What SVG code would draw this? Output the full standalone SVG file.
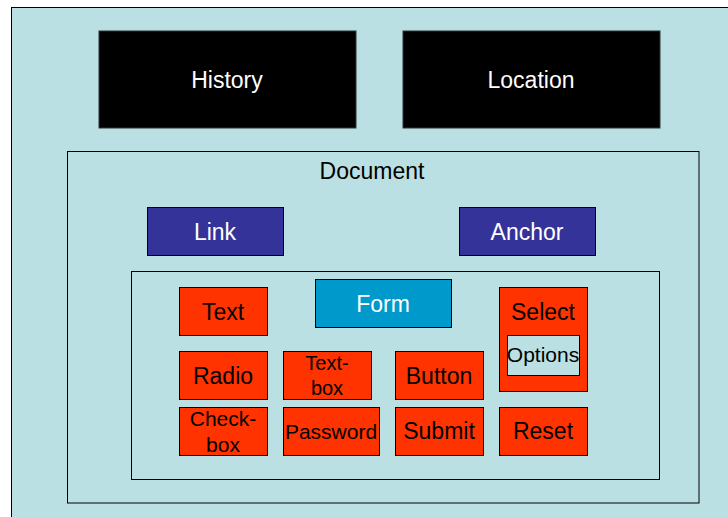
<svg xmlns="http://www.w3.org/2000/svg" width="728" height="517" viewBox="0 0 728 517">
<style>
text{font-family:"Liberation Sans",Arial,sans-serif;text-anchor:middle;font-size:23px}
.bg{fill:#BBE0E3;stroke:#000;stroke-width:1}
.blk{fill:#000;stroke:#333;stroke-width:1}
.blue{fill:#333399;stroke:#000;stroke-width:1}
.form{fill:#0099CC;stroke:#000;stroke-width:1}
.red{fill:#FF3300;stroke:#000;stroke-width:1}
.w{fill:#fff}
.k{fill:#000}
</style>
<rect width="728" height="517" fill="#fff"/>
<g id="window"><rect class="bg" x="11.5" y="7.5" width="730" height="520"/></g>
<g id="history"><rect class="blk" x="99" y="31" width="257" height="97"/><text class="w" x="227" y="88">History</text></g>
<g id="location"><rect class="blk" x="403" y="31" width="257" height="97"/><text class="w" x="531" y="88">Location</text></g>
<g id="document"><rect class="bg" x="67.5" y="151.5" width="631.5" height="351.5"/><text class="k" x="372" y="179">Document</text></g>
<g id="link"><rect class="blue" x="147.5" y="207.5" width="136" height="48"/><text class="w" x="215" y="240">Link</text></g>
<g id="anchor"><rect class="blue" x="459.5" y="207.5" width="136" height="48"/><text class="w" x="527" y="240">Anchor</text></g>
<g id="formArea"><rect class="bg" x="131.5" y="271.5" width="528" height="208"/></g>
<g id="form"><rect class="form" x="315.5" y="279.5" width="136" height="48"/><text class="w" x="383" y="311.5">Form</text></g>
<g id="text"><rect class="red" x="179.5" y="287.5" width="88" height="48"/><text class="k" x="223" y="320">Text</text></g>
<g id="select"><rect class="red" x="499.5" y="287.5" width="88" height="104"/><text class="k" x="543" y="320">Select</text>
<rect class="bg" x="507.5" y="335.5" width="72" height="40"/><text class="k" x="543" y="362" style="font-size:21px">Options</text></g>
<g id="radio"><rect class="red" x="179.5" y="351.5" width="88" height="48"/><text class="k" x="223" y="384">Radio</text></g>
<g id="textbox"><rect class="red" x="283.5" y="351.5" width="88" height="48"/><text class="k" x="327" y="370" style="font-size:20px">Text-</text><text class="k" x="327" y="395" style="font-size:20px">box</text></g>
<g id="button"><rect class="red" x="395.5" y="351.5" width="88" height="48"/><text class="k" x="439" y="384">Button</text></g>
<g id="checkbox"><rect class="red" x="179.5" y="407.5" width="88" height="48"/><text class="k" x="223" y="426" style="font-size:21px">Check-</text><text class="k" x="223" y="452" style="font-size:21px">box</text></g>
<g id="password"><rect class="red" x="283.5" y="407.5" width="96" height="48"/><text class="k" x="331" y="439" style="font-size:21px">Password</text></g>
<g id="submit"><rect class="red" x="395.5" y="407.5" width="88" height="48"/><text class="k" x="439" y="439">Submit</text></g>
<g id="reset"><rect class="red" x="499.5" y="407.5" width="88" height="48"/><text class="k" x="543" y="439">Reset</text></g>
<g id="connectors"></g>
</svg>
